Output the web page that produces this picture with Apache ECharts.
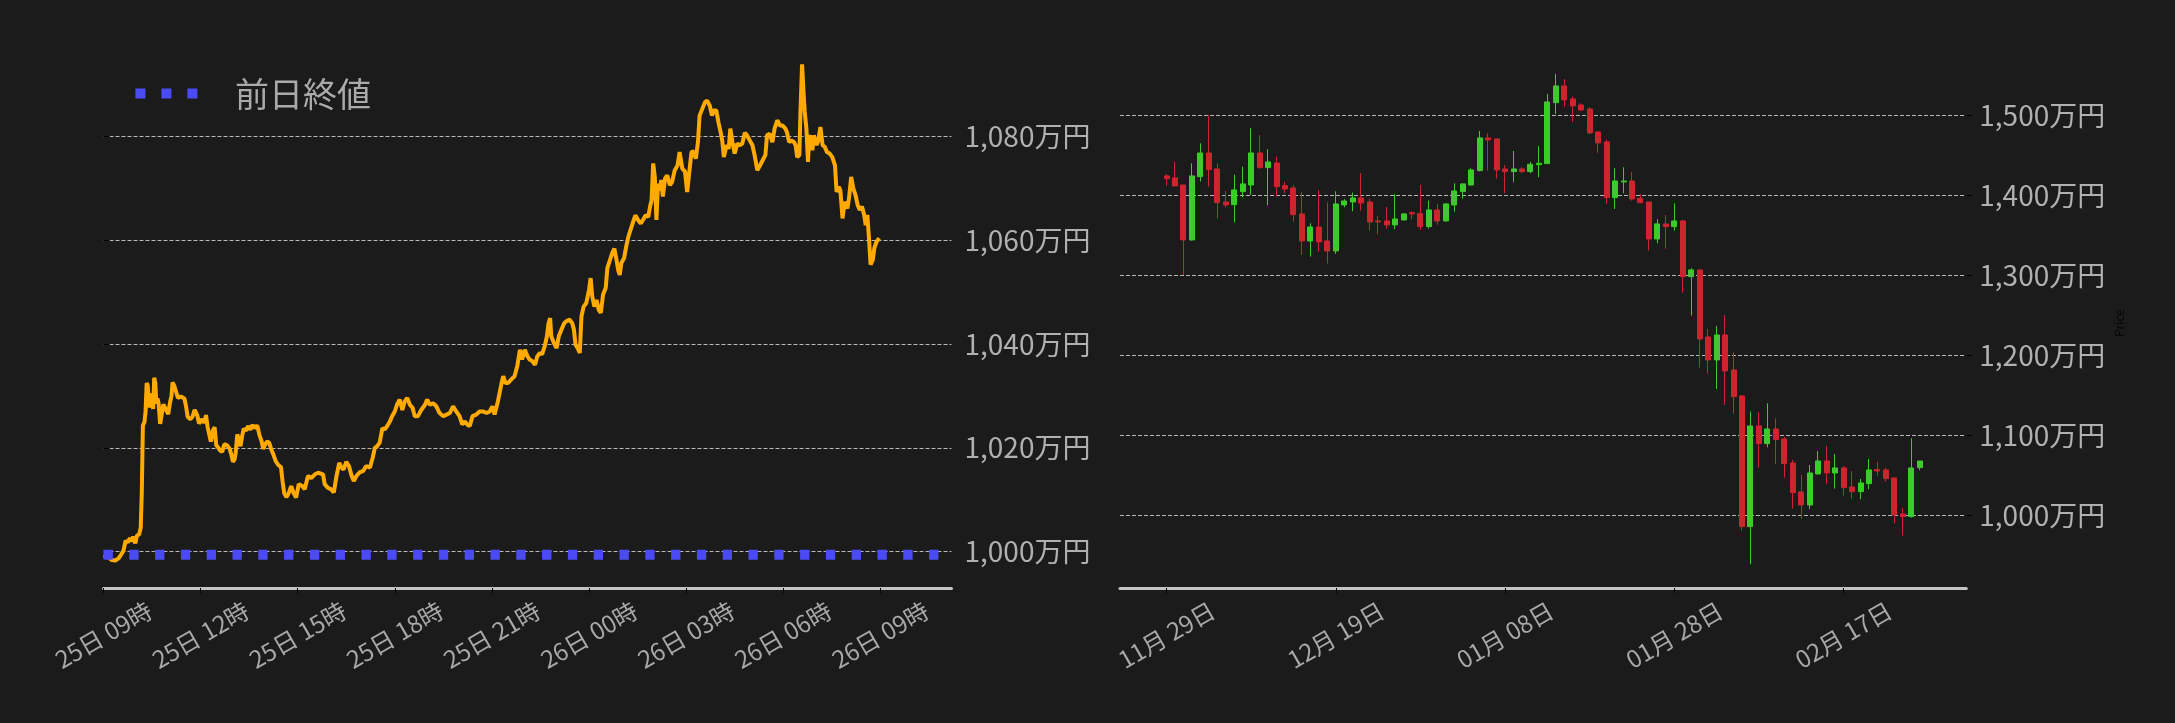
<!DOCTYPE html>
<html>
<head>
<meta charset="utf-8">
<script src="https://cdn.jsdelivr.net/npm/echarts@6/dist/echarts.min.js"></script>
<style>
html,body{margin:0;padding:0;background:#1b1b1b;}
#c{width:2175px;height:723px;}
</style>
</head>
<body>
<div id="c"></div>
<script>
// ---------- Intraday (minutes after 25日 09:00, price in 万円) ----------
const sessionA = [[0,999.3],[9,999.0],[15,998.4],[22,998.3],[28,998.7],[33,999.5],[37,1000.2],[41,1002.1],[45,1001.8],[49,1002.6],[52,1002.0],[55,1002.9],[59,1001.6],[62,1003.1],[66,1003.3],[69,1004.6],[71,1011.5],[73,1024.3],[76,1025.0],[78,1027.0],[80,1032.5],[82,1032.0],[84,1029.0],[86,1027.8],[88,1030.5],[90,1029.0],[92,1027.5],[94,1033.5],[96,1032.5],[98,1028.5],[100,1029.5],[102,1028.7],[105,1024.6],[108,1026.5],[111,1028.4],[115,1027.5],[120,1026.5],[123,1028.6],[126,1030.0],[128,1032.6],[131,1032.0],[134,1031.0],[138,1029.6],[143,1029.9],[150,1029.5],[153,1028.0],[156,1026.0],[161,1025.5],[165,1026.0],[169,1027.3],[174,1026.2],[177,1024.7],[180,1025.0],[183,1025.5],[187,1024.8],[190,1026.3],[193,1024.0],[196,1024.3],[199,1021.2],[203,1023.4],[206,1024.0],[209,1020.5],[213,1020.0],[216,1019.5],[220,1019.2],[224,1020.7],[229,1020.5],[234,1019.8],[237,1018.7],[240,1017.3],[243,1017.8],[245,1019.0],[248,1022.6],[251,1021.5],[254,1020.3],[257,1022.3],[260,1023.7],[264,1023.3],[268,1024.2],[272,1023.5],[276,1024.4],[280,1023.8],[285,1024.3],[289,1022.5],[293,1021.3],[296,1019.8],[299,1020.5],[303,1021.2],[307,1021.0],[311,1019.7],[315,1018.7],[319,1017.5],[324,1016.7],[329,1016.3],[332,1013.5],[335,1011.3],[339,1010.5],[343,1011.2]];
const sessionB = [[348,1012.6],[352,1011.4],[357,1010.4],[362,1013.0],[368,1012.7],[373,1012.0],[379,1014.6],[385,1014.2],[392,1014.9],[398,1015.2],[407,1014.9],[410,1013.0],[416,1012.3],[422,1012.0],[427,1011.4],[432,1014.6],[437,1017.1],[441,1016.2],[445,1015.8],[450,1017.3],[455,1016.5],[460,1014.6],[464,1013.6],[469,1014.6],[475,1015.3],[481,1015.5],[487,1016.5],[494,1016.2],[499,1018.1],[503,1020.0],[507,1020.3],[512,1021.0],[517,1023.8],[521,1023.5],[526,1024.2],[531,1025.1],[535,1026.1],[540,1027.0],[544,1028.3],[549,1029.3],[554,1027.3],[558,1028.9],[563,1029.6],[568,1028.3],[573,1027.7],[577,1026.1],[583,1026.1],[589,1027.3],[596,1028.3],[600,1029.3],[605,1028.3],[611,1028.6],[617,1028.0],[623,1026.7],[630,1026.1],[636,1026.4],[642,1026.7],[648,1028.0],[654,1027.0],[660,1026.1],[665,1024.5],[670,1025.1],[674,1024.5],[679,1024.2],[684,1026.1],[691,1026.4],[697,1027.0],[704,1027.0],[710,1026.7],[716,1027.0],[721,1028.0],[725,1026.4],[731,1028.9]];
const sessionC = [[738,1032.5],[741,1033.8],[745,1032.5],[750,1032.5],[756,1033.2],[762,1033.8],[767,1035.7],[772,1038.9],[776,1037.0],[781,1038.9],[786,1037.6],[790,1037.0],[795,1036.7],[800,1036.0],[804,1037.6],[809,1038.3],[813,1038.0],[818,1039.6],[822,1041.5],[825,1044.0],[828,1045.0],[830,1041.5],[835,1040.2],[840,1039.2],[844,1041.5],[849,1042.8],[854,1044.0],[858,1044.4],[864,1044.7],[869,1044.0],[872,1042.8],[875,1039.9],[879,1039.2],[883,1038.3],[886,1045.3],[890,1047.2],[895,1047.9],[900,1050.4],[903,1052.7],[906,1049.2],[910,1047.2],[914,1048.5],[918,1046.6],[922,1046.0],[926,1049.5],[931,1050.8],[934,1054.6],[939,1056.2],[943,1057.5],[947,1058.4],[951,1056.2],[954,1054.3],[957,1053.3],[960,1055.6],[965,1056.5],[969,1058.8],[973,1060.7],[977,1062.0],[982,1063.6],[986,1064.8],[991,1063.9],[996,1063.2],[1000,1063.9],[1005,1064.8],[1010,1064.5],[1013,1066.4],[1016,1067.7],[1019,1074.8],[1022,1072.2],[1025,1063.9],[1028,1070.9],[1031,1069.6],[1034,1071.6],[1037,1068.4],[1041,1071.9],[1045,1072.5],[1050,1070.6],[1054,1071.2],[1059,1073.5],[1064,1074.4]];
const sessionD = [[1068,1077.0],[1073,1073.8],[1078,1073.2],[1082,1069.3],[1086,1073.2],[1090,1077.0],[1094,1077.1],[1098,1075.7],[1102,1078.9],[1105,1084.0],[1110,1085.3],[1115,1086.6],[1119,1086.9],[1124,1085.9],[1128,1084.0],[1131,1085.0],[1136,1085.0],[1140,1082.7],[1144,1080.8],[1147,1079.2],[1150,1076.0],[1155,1078.3],[1159,1077.6],[1162,1081.5],[1166,1078.9],[1170,1076.7],[1175,1078.6],[1180,1078.3],[1184,1078.6],[1189,1080.7],[1193,1080.2],[1198,1079.2],[1203,1078.3],[1207,1076.4],[1212,1073.5],[1217,1074.4],[1222,1075.4],[1227,1076.4],[1230,1080.2],[1235,1080.5],[1240,1078.9],[1244,1081.5],[1249,1083.1],[1254,1082.1],[1259,1082.1],[1264,1081.5],[1267,1080.8],[1271,1078.9],[1275,1079.2],[1280,1078.9],[1283,1078.3],[1286,1076.0],[1290,1076.4],[1292,1084.7],[1295,1093.9],[1298,1087.9],[1300,1084.7],[1303,1081.5],[1306,1075.1],[1308,1079.6],[1311,1080.2],[1314,1077.3],[1317,1080.2],[1322,1078.3],[1325,1079.2],[1329,1081.8],[1333,1078.3],[1337,1078.0],[1341,1077.0],[1346,1076.7],[1351,1076.0],[1356,1074.4],[1359,1069.3],[1363,1070.3],[1366,1069.6],[1370,1064.2],[1374,1067.4],[1379,1066.1],[1382,1068.1],[1386,1072.2],[1390,1070.0],[1394,1068.7],[1398,1066.8],[1402,1065.8],[1406,1066.5],[1410,1064.9],[1413,1062.9],[1416,1064.9],[1419,1060.4],[1422,1055.3],[1426,1056.2],[1429,1058.5],[1433,1059.7],[1438,1060.4]];
const prevClose = 999.4;
const intradayMin = 0, intradayMax = 1572, intradayStep = 180;
const intradayYMin = 993.0, intradayYMax = 1095.1;

// ---------- Daily candles 11/29 .. 02/26 (万円) ----------
const candleOpen  = [1424.2,1421.7,1412.9,1344.2,1423.3,1452.9,1432.9,1391.7,1388.3,1404.6,1412.9,1452.9,1434.6,1440.4,1412.1,1409.2,1376.7,1342.9,1360.4,1342.9,1330.4,1387.9,1391.7,1396.7,1391.7,1367.9,1367.9,1362.9,1369.2,1378.3,1377.1,1360.8,1381.7,1367.9,1387.9,1404.6,1412.9,1430.8,1471.7,1470.4,1432.9,1429.6,1432.9,1429.6,1438.3,1439.6,1515.8,1536.7,1520.4,1512.9,1507.9,1479.2,1466.7,1397.1,1416.7,1417.9,1396.3,1391.7,1345.4,1364.2,1360.8,1367.9,1298.3,1306.7,1222.9,1194.2,1225.4,1181.7,1149.2,985.8,1111.7,1089.6,1107.9,1095.4,1065.4,1029.2,1012.9,1051.7,1067.9,1052.9,1059.2,1035.4,1029.6,1039.6,1057.1,1056.7,1046.7,1001.7,998.3,1059.6];
const candleClose = [1420.8,1411.7,1344.2,1424.2,1452.9,1432.1,1390.8,1387.9,1406.7,1414.2,1452.9,1434.6,1441.7,1410.8,1407.9,1375.8,1342.9,1360.4,1341.7,1330.4,1389.2,1392.9,1396.7,1390.4,1366.7,1366.7,1362.9,1370.4,1376.7,1376.7,1360.8,1381.7,1367.9,1389.2,1405.4,1414.2,1431.7,1471.7,1469.2,1431.7,1429.6,1432.9,1429.6,1438.8,1440.0,1516.7,1536.7,1519.2,1511.7,1506.7,1477.9,1465.4,1397.1,1417.9,1417.9,1395.4,1390.8,1345.4,1364.2,1360.8,1367.9,1298.3,1306.7,1220.4,1194.2,1225.4,1180.4,1148.3,985.8,1111.7,1089.6,1107.9,1094.6,1064.6,1028.3,1012.9,1052.9,1067.9,1052.9,1059.2,1034.6,1029.6,1040.4,1056.7,1055.4,1045.8,1000.4,998.3,1059.2,1067.9];
const candleLow   = [1411.7,1411.7,1300.4,1343.3,1417.1,1410.8,1370.8,1384.6,1366.3,1397.5,1400.4,1432.9,1387.5,1398.3,1402.5,1367.1,1325.4,1323.3,1329.6,1314.6,1326.7,1385.0,1380.0,1380.8,1355.8,1351.3,1358.3,1357.5,1368.3,1370.0,1356.7,1358.3,1363.3,1367.1,1379.6,1395.8,1412.1,1430.0,1430.8,1420.8,1402.5,1416.3,1427.5,1427.5,1422.5,1439.2,1501.7,1510.8,1491.7,1505.4,1476.7,1453.3,1389.2,1382.9,1402.5,1393.3,1390.0,1330.8,1340.0,1333.3,1355.8,1278.3,1249.6,1184.6,1177.1,1157.9,1137.9,1127.1,980.8,938.8,1059.6,1085.0,1063.8,1047.1,1008.3,995.8,1007.5,1050.8,1039.6,1033.3,1024.6,1020.8,1020.0,1032.5,1049.6,1042.1,990.0,974.6,997.1,1056.3];
const candleHigh  = [1426.7,1441.7,1412.9,1440.0,1465.0,1500.0,1440.0,1405.4,1425.8,1435.8,1483.8,1475.4,1457.5,1448.3,1416.7,1412.9,1404.2,1365.0,1406.7,1391.3,1405.0,1395.0,1403.3,1427.9,1395.8,1374.2,1385.4,1401.3,1377.5,1380.0,1412.9,1393.3,1389.2,1390.0,1415.0,1415.0,1433.8,1480.4,1477.5,1470.4,1437.9,1455.4,1435.0,1441.7,1461.3,1526.7,1551.7,1545.4,1523.3,1515.0,1510.0,1479.2,1469.2,1433.8,1435.0,1429.2,1401.3,1391.7,1370.0,1375.4,1390.0,1369.2,1308.8,1306.7,1232.9,1236.7,1250.4,1203.8,1150.4,1129.6,1128.8,1140.0,1121.3,1098.3,1069.2,1050.4,1062.9,1080.4,1086.7,1076.7,1061.7,1055.4,1045.4,1070.4,1066.7,1059.2,1046.7,1009.2,1096.3,1067.9];
const axisStartDate = [2025, 10, 24]; // first category (Nov 24), 100 daily slots
const axisDays = 100, firstCandleSlot = 5, labelEvery = 20;
const dailyYMin = 909.1, dailyYMax = 1571.6;

// ---------- build ----------
const FONT = '"Noto Sans CJK JP","Noto Sans",sans-serif';
const intraday = sessionA.concat(sessionB, sessionC, sessionD);
const prevLine = [[intradayMin, prevClose], [intradayMax, prevClose]];

const cats = [];
const t0 = Date.UTC(axisStartDate[0], axisStartDate[1], axisStartDate[2]);
for (let i = 0; i < axisDays; i++) {
  const d = new Date(t0 + i * 86400000);
  cats.push(String(d.getUTCMonth() + 1).padStart(2, '0') + '月 ' + String(d.getUTCDate()).padStart(2, '0') + '日');
}
const candles = cats.map((c, i) => {
  const k = i - firstCandleSlot;
  if (k < 0 || k >= candleOpen.length) return '-';
  return [candleOpen[k], candleClose[k], candleLow[k], candleHigh[k]];
});

function yen(v) {
  return String(Math.round(v)).replace(/\B(?=(\d{3})+(?!\d))/g, ',') + '万円';
}
function hourLabel(v) {
  const t = 540 + v;
  const day = 25 + Math.floor(t / 1440);
  const h = Math.floor((t % 1440) / 60);
  return day + '日 ' + String(h).padStart(2, '0') + '時';
}

const gridLine = { show: true, showMinLine: false, showMaxLine: false, lineStyle: { color: '#b8b8b8', width: 1, type: 'dashed' } };
const yLabel = { color: '#b0b0b0', fontSize: 28, fontFamily: FONT, margin: 13, showMinLabel: false, showMaxLabel: false, formatter: yen };
const xLabel = { color: '#a8a8a8', fontSize: 24, fontFamily: FONT, rotate: 30, align: 'center', verticalAlign: 'middle', margin: 47 };
const xLine = { show: true, lineStyle: { color: '#c4c4c4', width: 3 } };

const chart = echarts.init(document.getElementById('c'), null, { renderer: 'canvas' });
chart.setOption({
  backgroundColor: '#1b1b1b',
  animation: false,
  textStyle: { fontFamily: FONT },
  grid: [
    { left: 103.5, right: 1223.5, top: 58, bottom: 135, outerBoundsMode: 'none', containLabel: false },
    { left: 1120, right: 208.7, top: 58, bottom: 135, outerBoundsMode: 'none', containLabel: false }
  ],
  legend: {
    data: ['前日終値'],
    left: 135.4, top: 76.6, padding: 0,
    icon: 'path://M0,0h10v10h-10z M26,0h10v10h-10z M52,0h10v10h-10z',
    itemWidth: 63, itemHeight: 10,
    textStyle: { color: '#aaaaaa', fontSize: 34, lineHeight: 34, fontFamily: FONT, padding: [0, 0, 0, 32] }
  },
  xAxis: [
    {
      type: 'value', gridIndex: 0, min: intradayMin, max: intradayMax, interval: intradayStep,
      axisLine: xLine, splitLine: { show: false },
      axisTick: { show: true, length: 5, lineStyle: { color: '#000' } },
      axisLabel: Object.assign({}, xLabel, { showMaxLabel: false, showMinLabel: true, formatter: hourLabel })
    },
    {
      type: 'category', gridIndex: 1, data: cats, boundaryGap: true,
      axisLine: xLine, splitLine: { show: false },
      axisTick: { show: true, length: 5, alignWithLabel: true, interval: (i) => i % labelEvery === firstCandleSlot, lineStyle: { color: '#000' } },
      axisLabel: Object.assign({}, xLabel, { interval: (i) => i % labelEvery === firstCandleSlot })
    }
  ],
  yAxis: [
    {
      type: 'value', gridIndex: 0, position: 'right', min: intradayYMin, max: intradayYMax,
      axisLine: { show: false },
      axisTick: { show: true, length: 6, lineStyle: { color: '#000' } },
      splitLine: gridLine, axisLabel: yLabel
    },
    {
      type: 'value', gridIndex: 1, position: 'right', min: dailyYMin, max: dailyYMax,
      name: 'Price', nameLocation: 'middle', nameGap: 147,
      nameTextStyle: { color: '#050505', fontSize: 12, fontFamily: FONT },
      axisLine: { show: false },
      axisTick: { show: true, length: 6, lineStyle: { color: '#000' } },
      splitLine: gridLine, axisLabel: yLabel
    }
  ],
  series: [
    {
      name: '価格', type: 'line', xAxisIndex: 0, yAxisIndex: 0, data: intraday,
      symbol: 'none', lineStyle: { color: '#ffaa00', width: 4 }, itemStyle: { color: '#ffaa00' }, z: 2
    },
    {
      name: '前日終値', type: 'line', xAxisIndex: 0, yAxisIndex: 0, data: prevLine,
      symbol: 'none', lineStyle: { color: '#4b4bf5', width: 10, type: [9.3, 16.5], cap: 'butt' },
      itemStyle: { color: '#4b4bf5' }, z: 3
    },
    {
      name: 'Daily', type: 'candlestick', xAxisIndex: 1, yAxisIndex: 1, data: candles, barWidth: 5.5,
      itemStyle: { color: '#3ec92c', color0: '#cc252d', borderColor: '#3ec92c', borderColor0: '#cc252d', borderWidth: 1 }
    }
  ]
});
</script>
</body>
</html>
